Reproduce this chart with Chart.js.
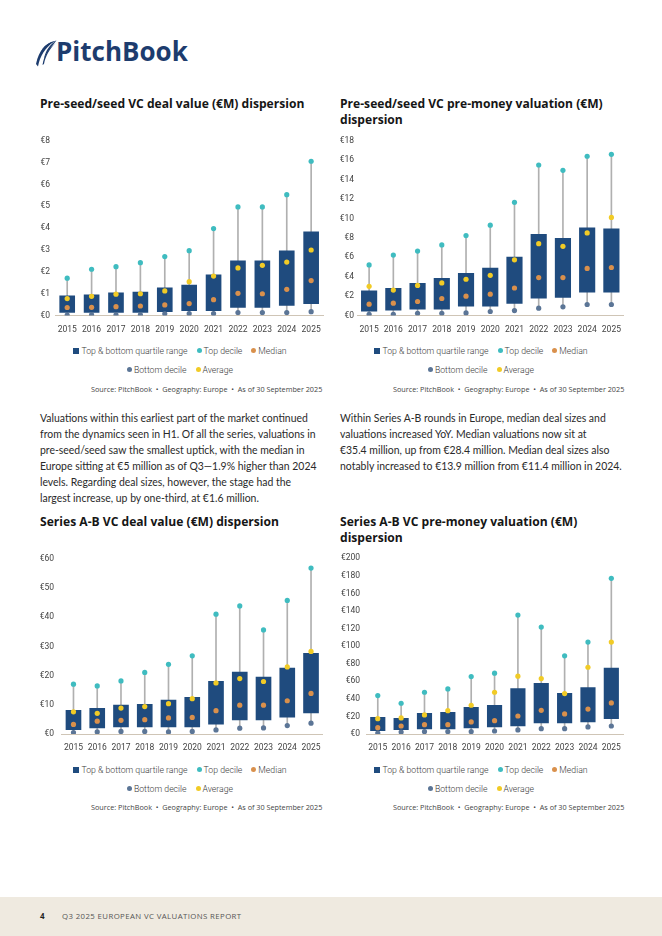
<!DOCTYPE html>
<html>
<head>
<meta charset="utf-8">
<script src="https://cdn.jsdelivr.net/npm/chart.js@4.4.1/dist/chart.umd.min.js"></script>
<style>
  body { margin: 0; width: 662px; height: 936px; position: relative; background: #fff; overflow: hidden; font-family: "Open Sans", sans-serif; }
  .abs { position: absolute; }
  .title { font-weight: 700; font-size: 12.1px; line-height: 16px; color: #161616; white-space: nowrap; }
  .para { font-family: Lato, sans-serif; font-size: 10.45px; line-height: 16px; color: #2a2a2a; white-space: nowrap; }
  .legend { font-family: Roboto, sans-serif; font-weight: 300; font-size: 8.7px; color: #3a3a3a; width: 320px; text-align: center; white-space: nowrap; line-height: 12px; }
  .legend span.item { margin: 0 4.5px; }
  .mk { display: inline-block; width: 5px; height: 5px; border-radius: 50%; margin-right: 2px; vertical-align: 1px; }
  .sq { border-radius: 0; width: 6px; height: 6px; vertical-align: 0; }
  .source { font-size: 7.25px; color: #444; white-space: nowrap; line-height: 10px; }
  .footer { left: 0; top: 897px; width: 662px; height: 39px; background: #efeae0; }
</style>
</head>
<body>

<script>
// categories
const years = ['2015', '2016', '2017', '2018', '2019', '2020', '2021', '2022', '2023', '2024', '2025'];

// Pre-seed/seed deal value (€M)
const seedDealTop    = [1.71, 2.12, 2.24, 2.42, 2.70, 2.97, 3.98, 4.97, 4.97, 5.53, 7.06];
const seedDealQ3     = [0.90, 0.95, 1.04, 1.08, 1.27, 1.40, 1.86, 2.50, 2.50, 2.96, 3.83];
const seedDealQ1     = [0.14, 0.14, 0.14, 0.14, 0.18, 0.23, 0.23, 0.37, 0.37, 0.46, 0.55];
const seedDealMedian = [0.37, 0.38, 0.41, 0.44, 0.49, 0.55, 0.73, 1.02, 1.00, 1.20, 1.60];
const seedDealBottom = [0.02, 0.03, 0.03, 0.03, 0.08, 0.09, 0.09, 0.14, 0.14, 0.14, 0.18];
const seedDealAvg    = [0.78, 0.88, 0.98, 1.00, 1.13, 1.55, 1.81, 2.18, 2.30, 2.45, 3.00];

// Pre-seed/seed pre-money valuation (€M)
const seedValTop    = [5.22, 6.23, 6.64, 7.27, 8.24, 9.31, 11.66, 15.50, 14.95, 16.40, 16.60];
const seedValQ3     = [2.56, 2.80, 3.32, 3.84, 4.36, 4.88, 6.02, 8.37, 7.96, 9.03, 8.93];
const seedValQ1     = [0.45, 0.55, 0.66, 0.66, 0.97, 0.97, 1.25, 1.80, 1.87, 2.42, 2.42];
const seedValMedian = [1.18, 1.28, 1.45, 1.76, 2.00, 2.21, 2.84, 3.91, 3.91, 4.85, 4.95];
const seedValBottom = [0.14, 0.14, 0.24, 0.24, 0.28, 0.42, 0.52, 0.76, 0.90, 1.14, 1.14];
const seedValAvg    = [3.01, 2.63, 3.11, 3.36, 3.74, 4.15, 5.74, 7.40, 7.13, 8.51, 10.10];

// Series A-B deal value (€M)
const abDealTop    = [17.1, 16.5, 18.2, 21.1, 23.9, 26.8, 41.1, 43.9, 35.7, 45.8, 56.9];
const abDealQ3     = [8.1, 8.8, 9.9, 10.2, 11.6, 12.6, 18.1, 21.2, 19.5, 22.6, 27.7];
const abDealQ1     = [1.5, 2.1, 2.4, 2.4, 2.4, 2.4, 3.4, 4.8, 4.8, 5.8, 7.2];
const abDealMedian = [3.3, 4.4, 4.7, 4.9, 5.5, 5.7, 8.0, 9.9, 9.9, 11.4, 13.9];
const abDealBottom = [0.5, 0.7, 0.9, 0.9, 0.7, 0.9, 1.4, 2.0, 2.1, 2.9, 3.7];
const abDealAvg    = [7.6, 7.1, 8.9, 9.4, 10.4, 12.1, 17.5, 19.0, 18.0, 23.0, 28.3];

// Series A-B pre-money valuation (€M)
const abValTop    = [43.7, 35.0, 47.5, 51.3, 65.4, 69.2, 135.4, 121.7, 89.0, 104.6, 177.2];
const abValQ3     = [19.0, 17.9, 23.6, 24.7, 30.4, 32.7, 51.7, 57.8, 46.4, 52.9, 74.9];
const abValQ1     = [3.8, 4.9, 5.7, 5.7, 6.8, 8.0, 9.1, 12.5, 12.5, 13.7, 17.5];
const abValMedian = [7.2, 9.1, 10.6, 10.6, 13.7, 15.2, 20.5, 27.0, 22.8, 28.4, 35.4];
const abValBottom = [1.1, 2.3, 2.7, 2.7, 2.7, 3.4, 4.6, 6.1, 6.1, 8.0, 9.1];
const abValAvg    = [17.5, 18.3, 21.7, 26.6, 32.7, 47.5, 65.8, 63.1, 46.0, 76.0, 104.6];

// y-axis tick ranges
const seedDealTicks = { max: 8, step: 1 };
const seedValTicks  = { max: 18, step: 2 };
const abDealTicks   = { max: 60, step: 10 };
const abValTicks    = { max: 200, step: 20 };
</script>

<!-- header -->
<div class="abs" style="left:35px;top:40px;">
  <svg width="22" height="27" viewBox="0 0 22 27">
    <path d="M21.5 0.5 C14 2 8 6 5.5 13 C7 9 12 5 21.5 0.5 Z M21.5 0.5 C15 4.5 10.5 10 9 19 C12 12 16 7 21.5 0.5 Z" fill="#1d3c6e"/>
    <path d="M19 1.5 C10 4 4 10 1 24 L3 26.5 C5 16 10 8 19 1.5 Z" fill="#1d3c6e"/>
    <path d="M20.5 3 C14 8 9 15 7.5 25 L9 24 C10.5 16 14.5 9 20.5 3 Z" fill="#1d3c6e"/>
  </svg>
</div>
<div class="abs" style="left:56px;top:33px;font-family:'Open Sans',sans-serif;font-weight:700;font-size:26px;color:#1d3c6e;letter-spacing:0px;">PitchBook</div>

<!-- titles -->
<div class="abs title" style="left:40px;top:96px;">Pre-seed/seed VC deal value (€M) dispersion</div>
<div class="abs title" style="left:340px;top:96px;">Pre-seed/seed VC pre-money valuation (€M)<br>dispersion</div>
<div class="abs title" style="left:40px;top:514px;">Series A-B VC deal value (€M) dispersion</div>
<div class="abs title" style="left:340px;top:514px;">Series A-B VC pre-money valuation (€M)<br>dispersion</div>

<!-- charts -->
<div class="abs" style="left:0px;top:126px;"><canvas id="c1" width="330" height="215"></canvas></div>
<div class="abs" style="left:330px;top:126px;"><canvas id="c2" width="330" height="215"></canvas></div>
<div class="abs" style="left:0px;top:545px;"><canvas id="c3" width="330" height="215"></canvas></div>
<div class="abs" style="left:330px;top:545px;"><canvas id="c4" width="330" height="215"></canvas></div>

<!-- legends -->
<div id="legends"></div>

<!-- sources -->
<div class="abs source" style="left:91px;top:384px;">Source: PitchBook&nbsp; •&nbsp; Geography: Europe&nbsp; •&nbsp; As of 30 September 2025</div>
<div class="abs source" style="left:393px;top:384px;">Source: PitchBook&nbsp; •&nbsp; Geography: Europe&nbsp; •&nbsp; As of 30 September 2025</div>
<div class="abs source" style="left:91px;top:802px;">Source: PitchBook&nbsp; •&nbsp; Geography: Europe&nbsp; •&nbsp; As of 30 September 2025</div>
<div class="abs source" style="left:393px;top:802px;">Source: PitchBook&nbsp; •&nbsp; Geography: Europe&nbsp; •&nbsp; As of 30 September 2025</div>

<!-- body text -->
<div class="abs para" style="left:40px;top:410px;">Valuations within this earliest part of the market continued<br>from the dynamics seen in H1. Of all the series, valuations in<br>pre-seed/seed saw the smallest uptick, with the median in<br>Europe sitting at €5 million as of Q3—1.9% higher than 2024<br>levels. Regarding deal sizes, however, the stage had the<br>largest increase, up by one-third, at €1.6 million.</div>
<div class="abs para" style="left:340px;top:410px;">Within Series A-B rounds in Europe, median deal sizes and<br>valuations increased YoY. Median valuations now sit at<br>€35.4 million, up from €28.4 million. Median deal sizes also<br>notably increased to €13.9 million from €11.4 million in 2024.</div>

<!-- footer -->
<div class="abs footer"></div>
<div class="abs" style="left:40px;top:910px;font-size:8px;font-weight:700;color:#222;">4</div>
<div class="abs" style="left:62px;top:910.5px;font-size:7.8px;letter-spacing:0.4px;color:#555;">Q3 2025 EUROPEAN VC VALUATIONS REPORT</div>

<script>
const NAVY = '#1f4b7e';
const TEAL = '#3fbcc0';
const ORANGE = '#d9904c';
const SLATE = '#5b7596';
const YELLOW = '#f1cb26';
const WHISKER = '#b0b0b0';
const TICK_FONT = { family: 'Roboto', size: 8.5, weight: 400 };

// HTML legends, two centred rows under each chart
function legend(cx, y) {
  const box = document.getElementById('legends');
  const row1 = document.createElement('div');
  row1.className = 'abs legend';
  row1.style.left = (cx - 160) + 'px';
  row1.style.top = (y - 6) + 'px';
  row1.innerHTML =
    `<span class="item"><span class="mk sq" style="background:${NAVY}"></span>Top &amp; bottom quartile range</span>` +
    `<span class="item"><span class="mk" style="background:${TEAL}"></span>Top decile</span>` +
    `<span class="item"><span class="mk" style="background:${ORANGE}"></span>Median</span>`;
  const row2 = document.createElement('div');
  row2.className = 'abs legend';
  row2.style.left = (cx - 160) + 'px';
  row2.style.top = (y + 13) + 'px';
  row2.innerHTML =
    `<span class="item"><span class="mk" style="background:${SLATE}"></span>Bottom decile</span>` +
    `<span class="item"><span class="mk" style="background:${YELLOW}"></span>Average</span>`;
  box.appendChild(row1);
  box.appendChild(row2);
}
legend(180, 351);
legend(481, 351);
legend(180, 770);
legend(481, 770);

function dots(values, color) {
  return {
    type: 'line', data: values, showLine: false, order: 0,
    pointRadius: 2.6, pointHoverRadius: 2.6, pointBorderWidth: 0,
    pointBackgroundColor: color, borderColor: color
  };
}

function boxChart(id, s, ticks, lay) {
  new Chart(document.getElementById(id), {
    type: 'bar',
    data: {
      labels: years,
      datasets: [
        dots(s.top, TEAL),
        dots(s.bottom, SLATE),
        dots(s.median, ORANGE),
        dots(s.avg, YELLOW),
        {
          data: years.map((y, i) => [s.q1[i], s.q3[i]]),
          backgroundColor: NAVY, barThickness: lay.bar, grouped: false, order: 1
        },
        {
          data: years.map((y, i) => [s.bottom[i], s.top[i]]),
          backgroundColor: WHISKER, barThickness: 1, grouped: false, order: 2
        }
      ]
    },
    options: {
      responsive: false,
      animation: false,
      layout: { padding: { top: lay.top, right: lay.right, left: 0, bottom: 0 } },
      plugins: { legend: { display: false }, tooltip: { enabled: false } },
      scales: {
        x: {
          offset: true,
          grid: { display: false, drawTicks: false },
          border: { color: '#cfc5b6', width: 1 },
          ticks: { font: TICK_FONT, color: '#444', padding: lay.xpad, maxRotation: 0, autoSkip: false },
          afterFit: a => { a.height = lay.xh; }
        },
        y: {
          min: 0, max: ticks.max,
          grid: { display: false, drawTicks: false },
          border: { display: false },
          ticks: { stepSize: ticks.step, font: TICK_FONT, color: '#444', padding: lay.ypad, callback: v => '€' + v },
          afterFit: a => { a.width = lay.yw; }
        }
      }
    }
  });
}

boxChart('c1',
  { top: seedDealTop, q3: seedDealQ3, q1: seedDealQ1, median: seedDealMedian, bottom: seedDealBottom, avg: seedDealAvg },
  seedDealTicks,
  { top: 14.7, right: 6.5, yw: 55, ypad: 5, xh: 25.4, xpad: 9, bar: 15 });
boxChart('c2',
  { top: seedValTop, q3: seedValQ3, q1: seedValQ1, median: seedValMedian, bottom: seedValBottom, avg: seedValAvg },
  seedValTicks,
  { top: 14.7, right: 36.5, yw: 27, ypad: 3, xh: 25.4, xpad: 9, bar: 15.5 });
boxChart('c3',
  { top: abDealTop, q3: abDealQ3, q1: abDealQ1, median: abDealMedian, bottom: abDealBottom, avg: abDealAvg },
  abDealTicks,
  { top: 14, right: 7.1, yw: 61.6, ypad: 7.6, xh: 26, xpad: 9, bar: 15 });
boxChart('c4',
  { top: abValTop, q3: abValQ3, q1: abValQ1, median: abValMedian, bottom: abValBottom, avg: abValAvg },
  abValTicks,
  { top: 13.3, right: 37, yw: 36.1, ypad: 6, xh: 26, xpad: 9, bar: 14.5 });
</script>
</body>
</html>
